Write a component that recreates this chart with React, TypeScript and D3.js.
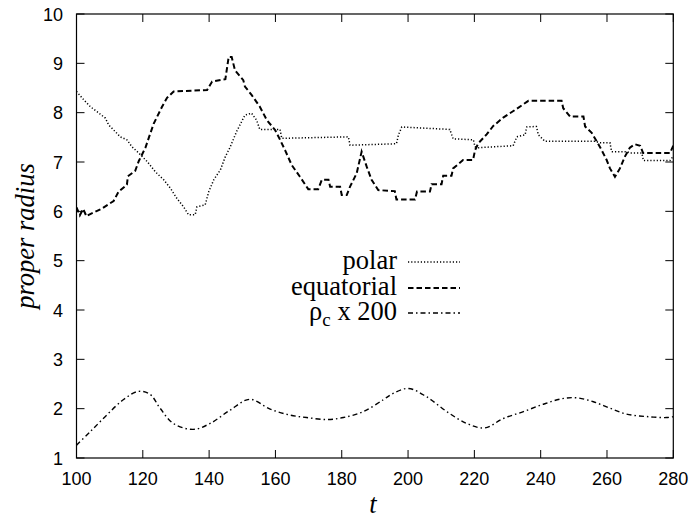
import React from "react";
import * as d3 from "d3";

const polarT = [100, 102.2, 104.2, 106.2, 108.7, 109.7, 111.2, 113.2, 115.2, 116.7, 118.8, 121.3, 123.8, 126.3, 128.3, 130.3, 132.3, 133.8, 135.8, 136.3, 138.8, 139.9, 141.4, 143.4, 144.9, 146.4, 148.3, 150.8, 152.8, 154.3, 155.3, 161.4, 161.9, 182.0, 182.5, 196.5, 197.1, 198.1, 212.6, 213.6, 219.7, 220.2, 221.2, 231.7, 232.8, 235.3, 235.8, 238.7, 239.3, 241.3, 256.4, 257.9, 260.9, 261.4, 266.0, 267.0, 270.5, 271.0, 279.0, 280.0];
const polarR = [8.43, 8.26, 8.12, 8.02, 7.89, 7.75, 7.65, 7.51, 7.45, 7.31, 7.18, 7.01, 6.80, 6.64, 6.47, 6.26, 6.09, 5.93, 5.93, 6.09, 6.13, 6.40, 6.64, 6.84, 7.11, 7.31, 7.62, 7.95, 7.99, 7.85, 7.66, 7.66, 7.48, 7.51, 7.34, 7.37, 7.55, 7.71, 7.66, 7.47, 7.45, 7.31, 7.29, 7.33, 7.51, 7.55, 7.71, 7.72, 7.55, 7.42, 7.42, 7.39, 7.39, 7.21, 7.21, 7.18, 7.18, 7.03, 7.03, 7.12];

const equatT = [100, 101, 102, 103, 103.7, 107.5, 111.2, 112.7, 115.2, 115.5, 117.7, 118.8, 120.8, 121.8, 123.3, 125.8, 127.3, 129.3, 139.4, 140.9, 144.9, 145.9, 146.8, 147.8, 150.3, 150.8, 152.8, 155.3, 157.4, 159.9, 161.4, 162.9, 164.9, 167.4, 169.9, 172.9, 174.0, 176.0, 176.5, 179.5, 180.0, 181.5, 182.5, 184.5, 186.0, 187.5, 189.0, 191.0, 196.0, 196.5, 202.1, 202.7, 206.6, 207.1, 210.1, 210.6, 213.1, 213.6, 216.6, 219.6, 220.2, 221.2, 223.7, 225.7, 228.7, 232.8, 236.3, 246.3, 246.8, 248.9, 252.9, 253.4, 255.4, 256.9, 258.4, 259.9, 260.9, 262.4, 263.9, 265.4, 266.9, 268.4, 270.0, 270.9, 279.0, 280.0];
const equatR = [6.08, 5.92, 6.05, 5.9, 5.93, 6.05, 6.21, 6.40, 6.54, 6.71, 6.82, 7.02, 7.29, 7.49, 7.78, 8.12, 8.30, 8.43, 8.46, 8.63, 8.68, 9.13, 9.13, 8.86, 8.66, 8.53, 8.36, 8.12, 7.85, 7.65, 7.45, 7.24, 6.94, 6.70, 6.45, 6.45, 6.64, 6.64, 6.50, 6.50, 6.33, 6.33, 6.50, 6.77, 7.21, 6.91, 6.64, 6.43, 6.41, 6.24, 6.24, 6.40, 6.40, 6.55, 6.55, 6.72, 6.72, 6.87, 7.04, 7.04, 7.24, 7.38, 7.56, 7.73, 7.90, 8.08, 8.24, 8.24, 8.09, 7.92, 7.92, 7.72, 7.59, 7.42, 7.24, 7.04, 6.87, 6.70, 6.87, 7.11, 7.29, 7.36, 7.33, 7.18, 7.18, 7.33];

const rhoT = [100, 104.1, 109.1, 114.1, 118.6, 122.2, 125.2, 129.2, 135.2, 140.3, 146.3, 152.3, 158.4, 164.4, 169.4, 175.5, 180.5, 186.5, 192.5, 195.5, 200.1, 205.6, 211.7, 217.7, 223.2, 228.7, 234.8, 240.8, 246.3, 250.9, 255.9, 260.9, 265.9, 272, 278, 280];
const rhoR = [1.26, 1.53, 1.87, 2.18, 2.35, 2.29, 2.01, 1.70, 1.58, 1.70, 1.97, 2.19, 1.99, 1.87, 1.82, 1.78, 1.82, 1.94, 2.18, 2.31, 2.41, 2.24, 1.94, 1.70, 1.61, 1.80, 1.94, 2.09, 2.20, 2.22, 2.14, 2.01, 1.89, 1.84, 1.82, 1.84];

const xTicks = [100, 120, 140, 160, 180, 200, 220, 240, 260, 280];
const yTicks = [1, 2, 3, 4, 5, 6, 7, 8, 9, 10];
const seriesNames = ["polar", "equatorial", "ρc x 200"];

const W = 697, H = 520;
const L = 76.5, R = 673.3, T = 14, B = 458;
const SANS = "'Liberation Sans', Arial, Helvetica, sans-serif";
const SERIF = "'Liberation Serif', 'Times New Roman', Times, 'DejaVu Serif', serif";

export default function App() {
  const x = d3.scaleLinear().domain([100, 280]).range([L, R]);
  const y = d3.scaleLinear().domain([1, 10]).range([B, T]);
  const lin = d3.line<[number, number]>().x(d => x(d[0])).y(d => y(d[1]));
  const smooth = d3.line<[number, number]>().x(d => x(d[0])).y(d => y(d[1])).curve(d3.curveCatmullRom);
  const zip = (a: number[], b: number[]) => a.map((v, i) => [v, b[i]] as [number, number]);

  const styles = [
    { dash: "1.2,2", w: 1.5 },
    { dash: "5.5,3", w: 2 },
    { dash: "5,3,1.5,3", w: 1.4 },
  ];
  const paths = [
    lin(zip(polarT, polarR)),
    lin(zip(equatT, equatR)),
    smooth(zip(rhoT, rhoR)),
  ];
  const legendY = [262, 288, 313];
  const tickLen = 8;

  return (
    <svg width={W} height={H} style={{ position: "absolute", left: 0, top: 0, background: "#fff" }}>
      <defs>
        <clipPath id="plot">
          <rect x={L} y={T} width={R - L} height={B - T} />
        </clipPath>
      </defs>
      <rect x={0} y={0} width={W} height={H} fill="#fff" />
      {xTicks.map(t => (
        <g key={"x" + t}>
          <line x1={x(t)} x2={x(t)} y1={B} y2={B - tickLen} stroke="#000" strokeWidth={1} />
          <line x1={x(t)} x2={x(t)} y1={T} y2={T + tickLen} stroke="#000" strokeWidth={1} />
          <text x={x(t)} y={485} textAnchor="middle" style={{ fontFamily: SANS, fontSize: 18 }}>{t}</text>
        </g>
      ))}
      {yTicks.map(v => (
        <g key={"y" + v}>
          <line x1={L} x2={L + tickLen} y1={y(v)} y2={y(v)} stroke="#000" strokeWidth={1} />
          <line x1={R} x2={R - tickLen} y1={y(v)} y2={y(v)} stroke="#000" strokeWidth={1} />
          <text x={63} y={y(v) + 6.5} textAnchor="end" style={{ fontFamily: SANS, fontSize: 18 }}>{v}</text>
        </g>
      ))}
      <g clipPath="url(#plot)">
        {paths.map((p, i) => (
          <path key={i} d={p || ""} fill="none" stroke="#000" strokeWidth={styles[i].w} strokeDasharray={styles[i].dash} />
        ))}
      </g>
      <rect x={L} y={T} width={R - L} height={B - T} fill="none" stroke="#000" strokeWidth={1.2} />
      {seriesNames.map((n, i) => (
        <g key={n}>
          <text x={397} y={legendY[i] + 7} textAnchor="end" style={{ fontFamily: SERIF, fontSize: 26.5 }}>
            {i < 2 ? n : (
              <>
                <tspan>ρ</tspan>
                <tspan dy={6} style={{ fontSize: 19 }}>c</tspan>
                <tspan dy={-6}> x 200</tspan>
              </>
            )}
          </text>
          <line x1={408} x2={460} y1={legendY[i]} y2={legendY[i]} stroke="#000" strokeWidth={styles[i].w} strokeDasharray={styles[i].dash} />
        </g>
      ))}
      <text x={373} y={513} textAnchor="middle" style={{ fontFamily: SERIF, fontStyle: "italic", fontSize: 26.5 }}>t</text>
      <text transform={`translate(34,${(T + B) / 2}) rotate(-90)`} textAnchor="middle" style={{ fontFamily: SERIF, fontStyle: "italic", fontSize: 26.5 }}>proper radius</text>
    </svg>
  );
}
